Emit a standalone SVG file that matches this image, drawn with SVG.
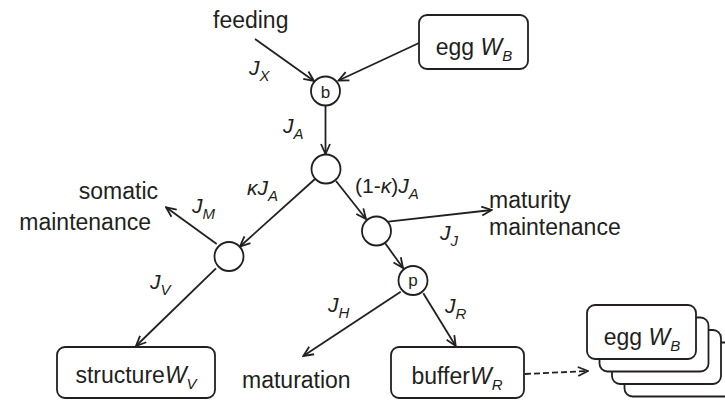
<svg xmlns="http://www.w3.org/2000/svg" width="725" height="400" viewBox="0 0 725 400">
<defs>
<marker id="ah" viewBox="0 0 12 12" refX="11" refY="6" markerWidth="12" markerHeight="12" markerUnits="userSpaceOnUse" orient="auto">
<path d="M1,1.5 L11,6 L1,10.5" fill="none" stroke="#231f20" stroke-width="1.8"/>
</marker>
</defs>
<style>
text{font-family:"Liberation Sans",Arial,Helvetica,sans-serif;fill:#231f20}
.t{font-size:23px}
.j{font-size:21px;font-style:italic}
.s{font-size:15px;font-style:italic}
.w{font-style:italic}
.c{font-size:17px;text-anchor:middle}
.n{fill:#fff;stroke:#231f20;stroke-width:1.8}
.e{fill:none;stroke:#231f20;stroke-width:1.8;marker-end:url(#ah)}
.d{stroke-dasharray:6,3}
</style>
<rect width="725" height="400" fill="#fff"/>
<g id="connectors">
<line class="e" x1="255" y1="39" x2="314" y2="81"/>
<line class="e" x1="419" y1="43" x2="338.5" y2="80.5"/>
<line class="e" x1="325.5" y1="106" x2="325.5" y2="154"/>
<line class="e" x1="315" y1="179" x2="240" y2="246.5"/>
<line class="e" x1="336" y1="181" x2="366" y2="219"/>
<line class="e" x1="216.7" y1="244" x2="166" y2="207.3"/>
<line class="e" x1="216" y1="268.3" x2="136" y2="346"/>
<line class="e" x1="388.3" y1="221.7" x2="491.7" y2="210"/>
<line class="e" x1="385" y1="243" x2="403" y2="268"/>
<line class="e" x1="400.7" y1="291.7" x2="303.3" y2="356"/>
<line class="e" x1="423.3" y1="293.3" x2="455.7" y2="346"/>
<line class="e d" x1="525" y1="374" x2="588" y2="371"/>
</g>
<g id="feeding"><text class="t" x="213" y="28">feeding</text></g>
<g id="egg-top">
<rect class="n" x="419" y="15" width="109" height="54" rx="8"/>
<text class="t" x="474" y="55" text-anchor="middle">egg <tspan class="w">W</tspan><tspan class="s" dy="6">B</tspan></text>
</g>
<g id="node-b">
<circle class="n" cx="325.5" cy="91" r="14.5"/>
<text class="c" x="325.5" y="97.5">b</text>
</g>
<g id="node-mid"><circle class="n" cx="326" cy="169" r="14.5"/></g>
<g id="node-left"><circle class="n" cx="229" cy="256.5" r="14.5"/></g>
<g id="node-right"><circle class="n" cx="376.5" cy="231" r="14.5"/></g>
<g id="node-p">
<circle class="n" cx="413" cy="280.5" r="14.5"/>
<text class="c" x="413" y="286">p</text>
</g>
<g id="somatic">
<text class="t" x="158" y="199" text-anchor="end">somatic</text>
<text class="t" x="151" y="230" text-anchor="end">maintenance</text>
</g>
<g id="maturity">
<text class="t" x="489" y="208">maturity</text>
<text class="t" x="489" y="235">maintenance</text>
</g>
<g id="maturation"><text class="t" x="242" y="388">maturation</text></g>
<g id="structure">
<rect class="n" x="57" y="347" width="158" height="51" rx="8"/>
<text class="t" x="136" y="383" text-anchor="middle">structure<tspan class="w">W</tspan><tspan class="s" dy="6">V</tspan></text>
</g>
<g id="buffer">
<rect class="n" x="391" y="347" width="133" height="51" rx="8"/>
<text class="t" x="457" y="384" text-anchor="middle">buffer<tspan class="w">W</tspan><tspan class="s" dy="6">R</tspan></text>
</g>
<g id="egg-stack">
<rect class="n" x="624.5" y="342.5" width="109" height="54" rx="8"/>
<rect class="n" x="612" y="330" width="109" height="54" rx="8"/>
<rect class="n" x="599.5" y="317.5" width="109" height="54" rx="8"/>
<rect class="n" x="587" y="305" width="109" height="54" rx="8"/>
<text class="t" x="642" y="345" text-anchor="middle">egg <tspan class="w">W</tspan><tspan class="s" dy="6">B</tspan></text>
</g>
<g id="labels">
<text class="j" x="249" y="75">J<tspan class="s" dy="6">X</tspan></text>
<text class="j" x="283" y="133">J<tspan class="s" dy="6">A</tspan></text>
<text class="j" x="247" y="195">κJ<tspan class="s" dy="6">A</tspan></text>
<text class="j" x="355" y="193"><tspan style="font-style:normal">(1-</tspan>κ<tspan style="font-style:normal">)</tspan>J<tspan class="s" dy="6">A</tspan></text>
<text class="j" x="192" y="213">J<tspan class="s" dy="6">M</tspan></text>
<text class="j" x="440" y="240">J<tspan class="s" dy="6">J</tspan></text>
<text class="j" x="150" y="289">J<tspan class="s" dy="6">V</tspan></text>
<text class="j" x="328" y="312">J<tspan class="s" dy="6">H</tspan></text>
<text class="j" x="445" y="313">J<tspan class="s" dy="6">R</tspan></text>
</g>
</svg>
